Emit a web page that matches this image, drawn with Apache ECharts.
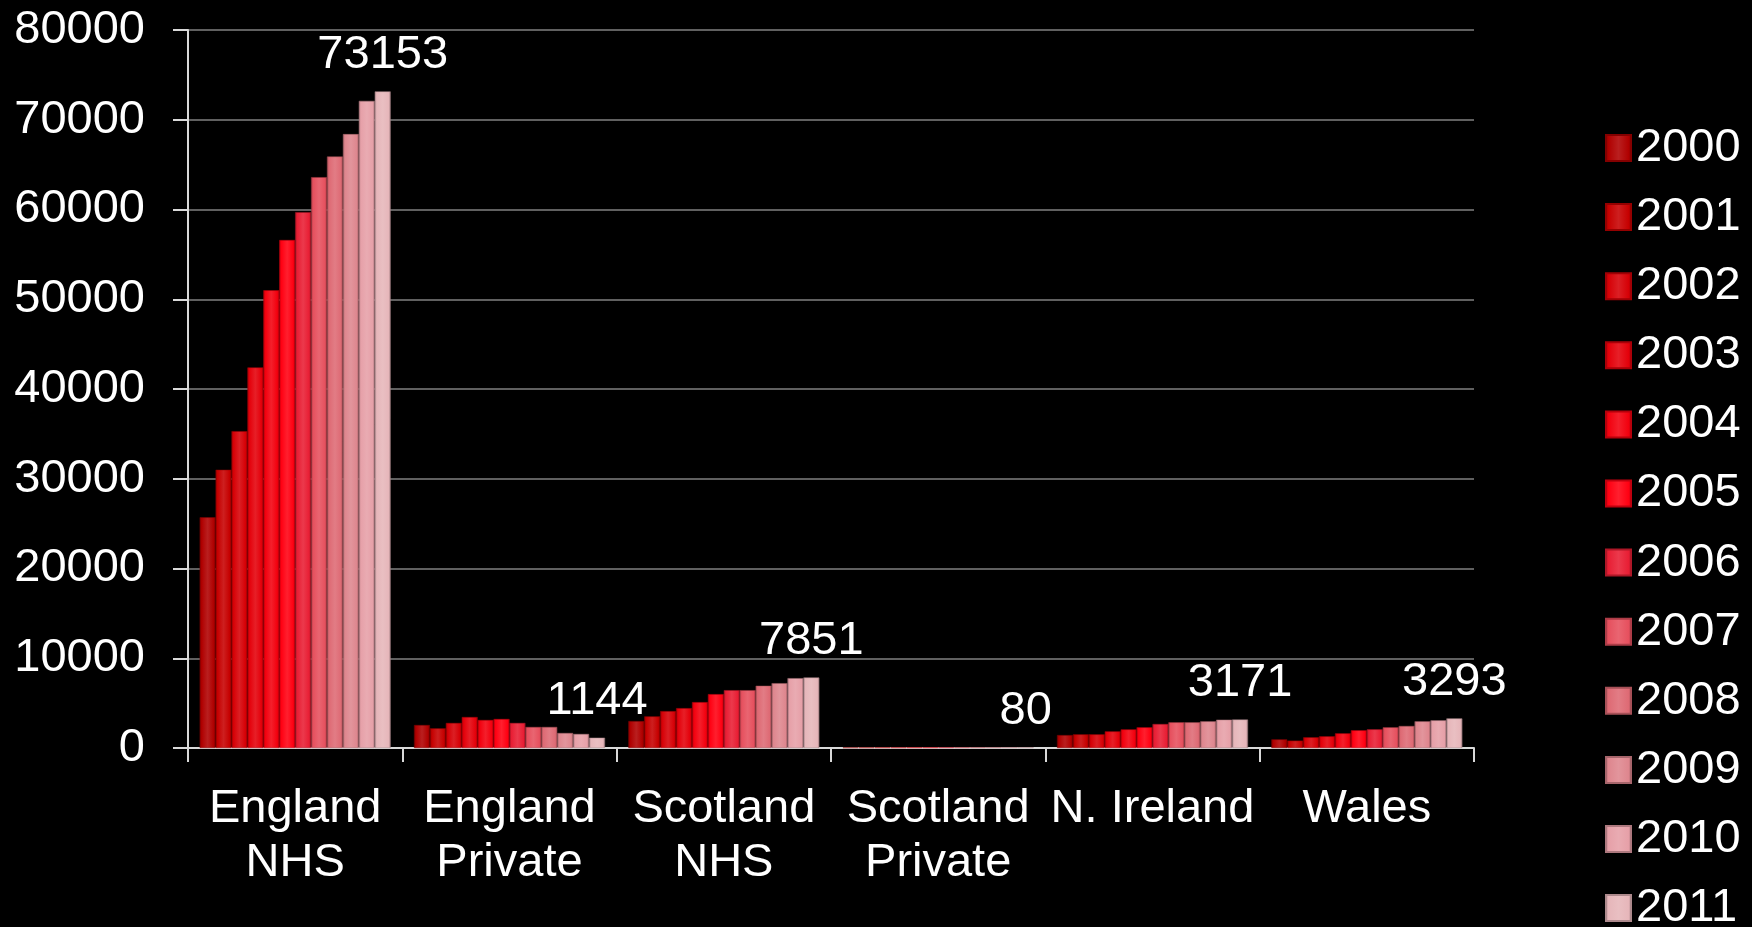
<!DOCTYPE html>
<html><head><meta charset="utf-8">
<script src="https://cdn.jsdelivr.net/npm/echarts@6/dist/echarts.min.js"></script>
<style>html,body{margin:0;padding:0;background:#000;}#c{width:1752px;height:927px;}</style>
</head><body><div id="c"></div>
<script>
const categories = ['England\nNHS','England\nPrivate','Scotland\nNHS','Scotland\nPrivate','N. Ireland','Wales'];
const years = ['2000','2001','2002','2003','2004','2005','2006','2007','2008','2009','2010','2011'];
const y2000 = [25700, 2560, 3000, 60, 1440, 960];
const y2001 = [31000, 2190, 3520, 60, 1520, 820];
const y2002 = [35300, 2790, 4110, 65, 1520, 1190];
const y2003 = [42400, 3450, 4440, 65, 1850, 1300];
const y2004 = [51000, 3120, 5110, 70, 2070, 1630];
const y2005 = [56600, 3230, 6000, 70, 2300, 1970];
const y2006 = [59700, 2790, 6440, 75, 2670, 2080];
const y2007 = [63600, 2340, 6440, 75, 2860, 2300];
const y2008 = [65900, 2340, 6930, 75, 2860, 2450];
const y2009 = [68400, 1670, 7220, 80, 2970, 2970];
const y2010 = [72100, 1560, 7780, 80, 3150, 3080];
const y2011 = [73153, 1144, 7851, 80, 3171, 3293];
const yearValues = [y2000,y2001,y2002,y2003,y2004,y2005,y2006,y2007,y2008,y2009,y2010,y2011];
const yTicks = [0,10000,20000,30000,40000,50000,60000,70000,80000];

const baseColors = ['#b00000','#c60000','#d60006','#e4000a','#f2000e','#ff0012','#e81e34','#e6505e','#de6a74','#de868e','#e6a0a8','#e6b6ba'];
function shade(hex, f){
  const n=parseInt(hex.slice(1),16);let r=n>>16,g=(n>>8)&255,b=n&255;
  if(f<0){r*=1+f;g*=1+f;b*=1+f;}else{r+= (255-r)*f;g+=(255-g)*f;b+=(255-b)*f;}
  return 'rgb('+Math.round(r)+','+Math.round(g)+','+Math.round(b)+')';
}
function grad(c){
  return {type:'linear',x:0,y:0,x2:1,y2:0,colorStops:[
    {offset:0,color:shade(c,-0.3)},{offset:0.12,color:c},{offset:0.5,color:shade(c,0.12)},
    {offset:0.88,color:c},{offset:1,color:shade(c,-0.3)}]};
}
const font = '"Liberation Sans", Arial, sans-serif';
const series = years.map((y,i)=>({
  name:y, type:'bar', data:yearValues[i], barGap:'0%', barCategoryGap:'10.9%',
  itemStyle:{color:grad(baseColors[i]), borderColor:shade(baseColors[i],-0.25), borderWidth:0.5},
  label: i===years.length-1 ? {show:true, position:'top', distance:13, color:'#fff', fontSize:47, fontFamily:font} : {show:false},
  emphasis:{disabled:true}
}));

const legendBase = {
  orient:'vertical', left:1605, padding:0, itemWidth:25, itemHeight:26, itemGap:22.1, itemTextGap:13,
  icon:'rect', height:400,
  textStyle:{color:'#fff', fontSize:47, fontFamily:font, width:100, overflow:'none'}
};
const chart = echarts.init(document.getElementById('c'));
chart.setOption({
  backgroundColor:'#000',
  animation:false,
  grid:{left:188, right:278, top:30, bottom:179, containLabel:false},
  legend:[
    Object.assign({}, legendBase, {top:124.5, data:years.slice(0,6)}),
    Object.assign({}, legendBase, {top:539.1, data:years.slice(6)})
  ],
  xAxis:{
    type:'category', data:categories,
    axisLine:{lineStyle:{color:'#d9d9d9', width:2}},
    axisTick:{show:true, length:14, lineStyle:{color:'#d9d9d9', width:2}},
    axisLabel:{color:'#fff', fontSize:47, fontFamily:font, lineHeight:54, margin:34, interval:0}
  },
  yAxis:{
    type:'value', min:0, max:80000, interval:10000,
    axisLine:{show:true, lineStyle:{color:'#d9d9d9', width:2}},
    axisTick:{show:true, inside:false, length:15, lineStyle:{color:'#d9d9d9', width:2}},
    axisLabel:{color:'#fff', fontSize:47, fontFamily:font, margin:43,
      formatter:v=>yTicks.includes(v)?String(v):''},
    splitLine:{show:true, lineStyle:{color:'#808080', width:1.5}}
  },
  series:series
});
</script></body></html>
